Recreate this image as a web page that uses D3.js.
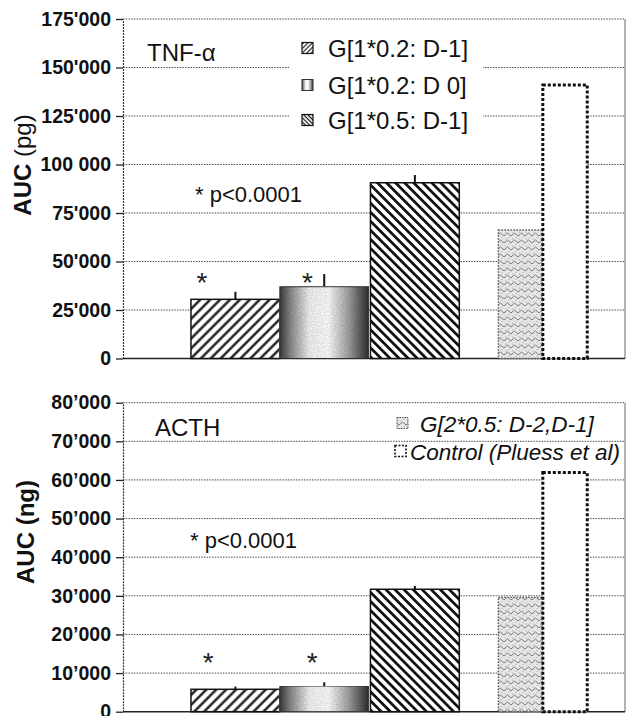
<!DOCTYPE html>
<html><head><meta charset="utf-8">
<script src="https://cdn.jsdelivr.net/npm/d3@7"></script>
<style>
html,body{margin:0;padding:0;background:#fff;}
svg{display:block;font-family:"Liberation Sans",Arial,Helvetica,sans-serif;}
</style></head><body>
<svg id="chart" width="629" height="716"></svg>
<script>
// ---------------- DATA ----------------
const seriesNames = ["G[1*0.2: D-1]", "G[1*0.2: D 0]", "G[1*0.5: D-1]", "G[2*0.5: D-2,D-1]", "Control (Pluess et al)"];
const tnfValues  = [30500, 37000, 90600, 66200, 141000];
const tnfErrors  = [3900, 6500, 4000, 0, 0];
const acthValues = [5800, 6650, 31700, 29600, 61900];
const acthErrors = [700, 950, 850, 0, 0];
const tnfTicks = [0, 25000, 50000, 75000, 100000, 125000, 150000, 175000];
const tnfTickLabels = ["0", "25'000", "50'000", "75'000", "100 000", "125'000", "150'000", "175'000"];
const acthTicks = [0, 10000, 20000, 30000, 40000, 50000, 60000, 70000, 80000];
const acthTickLabels = ["0", "10’000", "20’000", "30’000", "40’000", "50’000", "60’000", "70’000", "80’000"];
const significant = [0, 1];           // series marked with *
const tnfStarLevel = 42500;
const acthStarLevel = 14400;
const pText = "* p<0.0001";

// ---------------- LAYOUT ----------------
const svg = d3.select("#chart");
const plotLeft = 123, plotRight = 625;
const x = d3.scaleLinear().domain([0, 11.3]).range([plotLeft, plotRight]);
const slotStart = [1.53, 3.53, 5.57, 8.45, 9.45];
const slotWidth = [2, 2, 2, 1, 1];
const fills = ["url(#hatchFwd)", "url(#cyl)", "url(#hatchBack)", "url(#zigzag)", "#fff"];

const defs = svg.append("defs");
function hatch(id, angle, size, sw) {
  const p = defs.append("pattern").attr("id", id).attr("patternUnits", "userSpaceOnUse")
    .attr("width", size).attr("height", size).attr("patternTransform", `rotate(${angle})`);
  p.append("rect").attr("width", size).attr("height", size).attr("fill", "#fff");
  p.append("line").attr("x1", size / 2).attr("x2", size / 2).attr("y1", 0).attr("y2", size)
    .attr("stroke", "#111").attr("stroke-width", sw);
}
hatch("hatchFwd", 45, 7, 2.3);
hatch("hatchBack", -45, 6.4, 2.7);
hatch("hatchFwdS", 45, 3.2, 1.1);
hatch("hatchBackS", -45, 3, 1.2);

const g = defs.append("linearGradient").attr("id", "cyl").attr("x1", "0%").attr("x2", "100%").attr("y1", "0%").attr("y2", "0%");
[[0, "#3c3c3c"], [0.12, "#8a8a8a"], [0.33, "#f4f4f4"], [0.55, "#ffffff"], [0.78, "#a0a0a0"], [1, "#2e2e2e"]]
  .forEach(([o, c]) => g.append("stop").attr("offset", o).attr("stop-color", c));

const pz = defs.append("pattern").attr("id", "zigzag").attr("patternUnits", "userSpaceOnUse").attr("width", 7).attr("height", 7);
pz.append("rect").attr("width", 7).attr("height", 7).attr("fill", "#e6e6e6");
pz.append("path").attr("d", "M0,5 L3.5,2 L7,5").attr("fill", "none").attr("stroke", "#7a7a7a").attr("stroke-width", 1);
pz.append("circle").attr("cx", 1.5).attr("cy", 1).attr("r", 0.55).attr("fill", "#999");
pz.append("circle").attr("cx", 5).attr("cy", 6.5).attr("r", 0.55).attr("fill", "#999");

const grain = defs.append("filter").attr("id", "grain").attr("x", 0).attr("y", 0).attr("width", 1).attr("height", 1);
grain.append("feTurbulence").attr("type", "fractalNoise").attr("baseFrequency", 0.9).attr("numOctaves", 1).attr("seed", 3).attr("result", "n");
grain.append("feColorMatrix").attr("in", "n").attr("type", "matrix")
  .attr("values", "0 0 0 0 0.5  0 0 0 0 0.5  0 0 0 0 0.5  0 0 0 -1.4 1.0").attr("result", "nm");
grain.append("feComposite").attr("in", "nm").attr("in2", "SourceGraphic").attr("operator", "in").attr("result", "nc");
grain.append("feBlend").attr("in", "SourceGraphic").attr("in2", "nc").attr("mode", "multiply");

const barStroke = [
  {stroke: "#111", w: 1.5, dash: null},
  {stroke: "#333", w: 1, dash: null},
  {stroke: "#111", w: 1.5, dash: null},
  {stroke: "#555", w: 1.4, dash: "1.5,1.5"},
  {stroke: "#111", w: 3, dash: "3,2"}
];

function panel(cfg) {
  const y = d3.scaleLinear().domain([0, cfg.max]).range([cfg.yBottom, cfg.yTop]);
  const gp = svg.append("g");

  // gridlines
  gp.selectAll("line.grid").data(cfg.ticks.filter(t => t > 0)).join("line")
    .attr("x1", plotLeft).attr("x2", plotRight).attr("y1", d => y(d)).attr("y2", d => y(d))
    .attr("stroke", "#4a4a4a").attr("stroke-width", 1).attr("stroke-dasharray", "1.5,1.2");
  // right border
  gp.append("line").attr("x1", plotRight).attr("x2", plotRight).attr("y1", y(cfg.max)).attr("y2", y(0))
    .attr("stroke", "#666").attr("stroke-width", 1);

  if (cfg.legendBg) {
    gp.append("rect").attr("x", cfg.legendBg[0]).attr("y", cfg.legendBg[1])
      .attr("width", cfg.legendBg[2]).attr("height", cfg.legendBg[3]).attr("fill", "#fff");
  }

  // axis
  const ax = gp.append("g").attr("transform", `translate(${plotLeft},0)`)
    .call(d3.axisLeft(y).tickValues(cfg.ticks).tickFormat((d, i) => cfg.labels[i]).tickSize(7).tickPadding(5).tickSizeOuter(0));
  ax.select(".domain").attr("stroke", "#333").attr("stroke-width", 1.2).attr("stroke-dasharray", "2,1");
  ax.selectAll(".tick line").attr("stroke", "#222").attr("stroke-width", 1.3);
  ax.selectAll(".tick text").attr("font-size", 19.5).attr("font-weight", "bold").attr("fill", "#111")
    .attr("font-family", "'Liberation Sans',Arial,sans-serif");

  // baseline
  gp.append("line").attr("x1", plotLeft).attr("x2", plotRight).attr("y1", y(0)).attr("y2", y(0))
    .attr("stroke", "#222").attr("stroke-width", 1.5);

  // error bars (upper whisker)
  const data = cfg.values.map((v, i) => ({i, v, e: cfg.errors[i]}));
  gp.selectAll("line.err").data(data.filter(d => d.e > 0)).join("line")
    .attr("x1", d => x(slotStart[d.i] + slotWidth[d.i] / 2)).attr("x2", d => x(slotStart[d.i] + slotWidth[d.i] / 2))
    .attr("y1", d => y(d.v)).attr("y2", d => y(d.v + d.e))
    .attr("stroke", "#111").attr("stroke-width", 2);

  // bars
  gp.selectAll("rect.bar").data(data).join("rect")
    .attr("x", d => x(slotStart[d.i])).attr("width", d => x(slotStart[d.i] + slotWidth[d.i]) - x(slotStart[d.i]))
    .attr("y", d => y(d.v)).attr("height", d => y(0) - y(d.v))
    .attr("fill", d => fills[d.i])
    .attr("filter", d => d.i === 1 ? "url(#grain)" : null)
    .attr("stroke", d => barStroke[d.i].stroke).attr("stroke-width", d => barStroke[d.i].w)
    .attr("stroke-dasharray", d => barStroke[d.i].dash);

  // asterisks
  gp.selectAll("text.star").data(significant).join("text")
    .attr("x", (d, k) => x(slotStart[d] + cfg.starOffset[k])).attr("y", y(cfg.starLevel) + 16)
    .attr("text-anchor", "middle").attr("font-size", 28).attr("fill", "#222").text("*");

  // p text
  gp.append("text").attr("x", cfg.pPos[0]).attr("y", y(cfg.pLevel))
    .attr("font-size", 22).attr("fill", "#111").text(pText);

  // panel title
  gp.append("text").attr("x", cfg.titlePos[0]).attr("y", cfg.titlePos[1])
    .attr("font-size", 24).attr("fill", "#111").text(cfg.title);

  // y title
  const yt = gp.append("text").attr("transform", `translate(${cfg.yTitlePos[0]},${cfg.yTitlePos[1]}) rotate(-90)`)
    .attr("text-anchor", "middle").attr("font-size", 24).attr("fill", "#111").attr("dy", "0.35em");
  yt.append("tspan").attr("font-weight", "bold").text("AUC ");
  yt.append("tspan").attr("font-weight", cfg.unitBold ? "bold" : "normal").text(cfg.unit);

  // legend
  cfg.legend.forEach(L => {
    const lg = gp.append("g");
    lg.append("rect").attr("x", L.bx).attr("y", L.cy - 5.5).attr("width", 11).attr("height", 11)
      .attr("fill", L.fill).attr("stroke", L.stroke).attr("stroke-width", L.sw).attr("stroke-dasharray", L.dash);
    lg.append("text").attr("x", L.tx).attr("y", L.cy + 8.5).attr("font-size", L.fs)
      .attr("font-style", L.italic ? "italic" : "normal").attr("fill", "#111").text(seriesNames[L.s]);
  });
}

panel({
  max: 175000, yTop: 19, yBottom: 358.5, ticks: tnfTicks, labels: tnfTickLabels,
  values: tnfValues, errors: tnfErrors, starLevel: tnfStarLevel, starOffset: [0.25, 0.62],
  pPos: [195], pLevel: 80700, title: "TNF-α", titlePos: [147, 61],
  yTitlePos: [23, 165], unit: "(pg)", unitBold: false,
  legendBg: [289, 27, 194, 112],
  legend: [
    {s: 0, bx: 302, cy: 48, tx: 328, fs: 24, fill: "url(#hatchFwdS)", stroke: "#111", sw: 1.2},
    {s: 1, bx: 302, cy: 85, tx: 328, fs: 24, fill: "url(#cyl)", stroke: "#333", sw: 1},
    {s: 2, bx: 302, cy: 120, tx: 328, fs: 24, fill: "url(#hatchBackS)", stroke: "#111", sw: 1.2}
  ]
});

panel({
  max: 80000, yTop: 402.7, yBottom: 711.7, ticks: acthTicks, labels: acthTickLabels,
  values: acthValues, errors: acthErrors, starLevel: acthStarLevel, starOffset: [0.39, 0.73],
  pPos: [190], pLevel: 42400, title: "ACTH", titlePos: [155, 436],
  yTitlePos: [26, 532], unit: "(ng)", unitBold: true,
  legend: [
    {s: 3, bx: 397, cy: 423, tx: 420, fs: 22.5, italic: true, fill: "url(#zigzag)", stroke: "#555", sw: 1, dash: "1.5,1"},
    {s: 4, bx: 395, cy: 451, tx: 410, fs: 22.5, italic: true, fill: "#fff", stroke: "#111", sw: 1.6, dash: "2,1.5"}
  ]
});
</script>
</body></html>
